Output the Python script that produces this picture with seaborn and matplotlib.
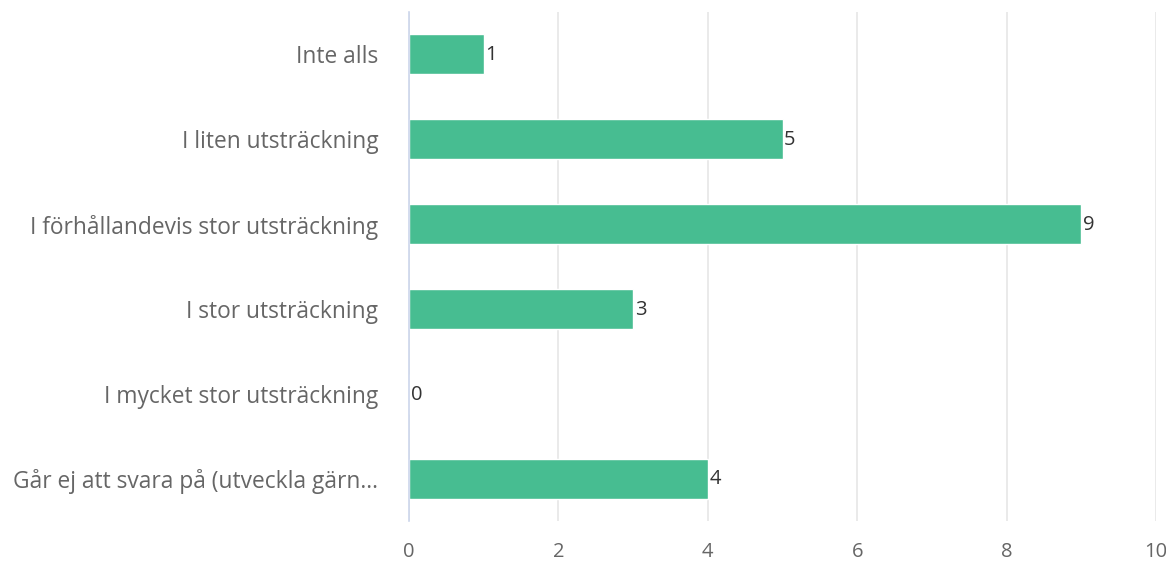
import matplotlib
matplotlib.use("Agg")
import matplotlib.pyplot as plt
import seaborn as sns
import pandas as pd

# Data
categories = [
    "Inte alls",
    "I liten utsträckning",
    "I förhållandevis stor utsträckning",
    "I stor utsträckning",
    "I mycket stor utsträckning",
    "Går ej att svara på (utveckla gärn…",
]
counts = [1, 5, 9, 3, 0, 4]
x_ticks = [0, 2, 4, 6, 8, 10]

df = pd.DataFrame({"category": categories, "count": counts})

sns.set_theme(style="white")
plt.rcParams["font.family"] = ["Open Sans", "DejaVu Sans"]

fig = plt.figure(figsize=(11.66, 5.63), dpi=100)
ax = fig.add_axes([0.3508, 0.0746, 0.6406, 0.9041])

sns.barplot(data=df, x="count", y="category", color="#47bd91",
            saturation=1, width=0.47, ax=ax, zorder=3)

for i, v in enumerate(counts):
    ax.text(v + 0.02, i + 0.01, str(v), va="center", ha="left",
            fontsize=14.5, color="#333333", zorder=4)

ax.set_xlim(0, 10)
ax.set_ylim(5.5, -0.5)
ax.set_xticks(x_ticks)
ax.set_xticklabels([str(t) for t in x_ticks], fontsize=14.5, color="#666666")
ax.tick_params(axis="x", length=0, pad=15)
ax.tick_params(axis="y", length=0, pad=22, labelsize=16.4, labelcolor="#666666")
ax.set_xlabel("")
ax.set_ylabel("")

ax.grid(axis="x", color="#e6e6e6", linewidth=1.2, zorder=0)
ax.grid(axis="y", visible=False)
for s in ["top", "right", "bottom"]:
    ax.spines[s].set_visible(False)
ax.spines["left"].set_color("#ccd6eb")
ax.spines["left"].set_linewidth(1.2)
ax.spines["left"].set_zorder(5)

fig.savefig("out.png", dpi=100)
